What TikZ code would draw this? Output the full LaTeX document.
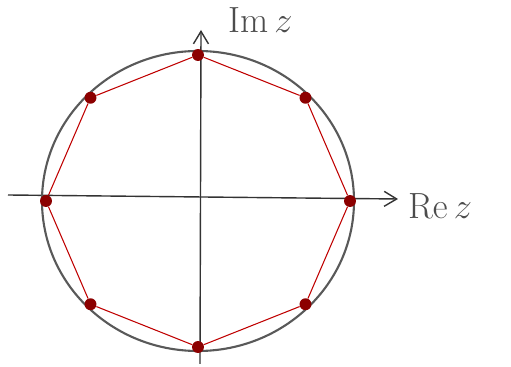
\documentclass[tikz,border=0pt]{standalone}
\usetikzlibrary{arrows.meta, calc}

\begin{document}
\begin{tikzpicture}[x=0.02cm, y=-0.02cm, >={Straight Barb[length=2.5mm, width=3mm]},
  every node/.style={font=\huge, text=black!70}]
  \useasboundingbox (0,0) rectangle (511,367);
  % axes
  \coordinate (c) at (198,201);
  \coordinate (xl) at (8,195);
  \coordinate (xr) at (398,199);
  \coordinate (yb) at (200,364);
  \coordinate (yt) at (201,30);
  \draw[->, thick, black!80] (xl) -- (xr);
  \draw[->, thick, black!80] (yb) -- (yt);
  \node[anchor=west] (re) at (402,206) {$\mathrm{Re}\,z$};
  \node[anchor=west] (im) at (222,20) {$\mathrm{Im}\,z$};
  % unit circle
  \draw[very thick, black!65] (c) ellipse [x radius=156, y radius=150];
  % eighth roots
  \foreach \k in {0,...,7}
    \node[circle, fill=red!55!black, inner sep=2.4pt] (p\k) at ($(c)+({-\k*45}:152 and 146)$) {};
  \draw[semithick, red!75!black] (p0) -- (p1) -- (p2) -- (p3) -- (p4) -- (p5) -- (p6) -- (p7) -- (p0);
\end{tikzpicture}
\end{document}
